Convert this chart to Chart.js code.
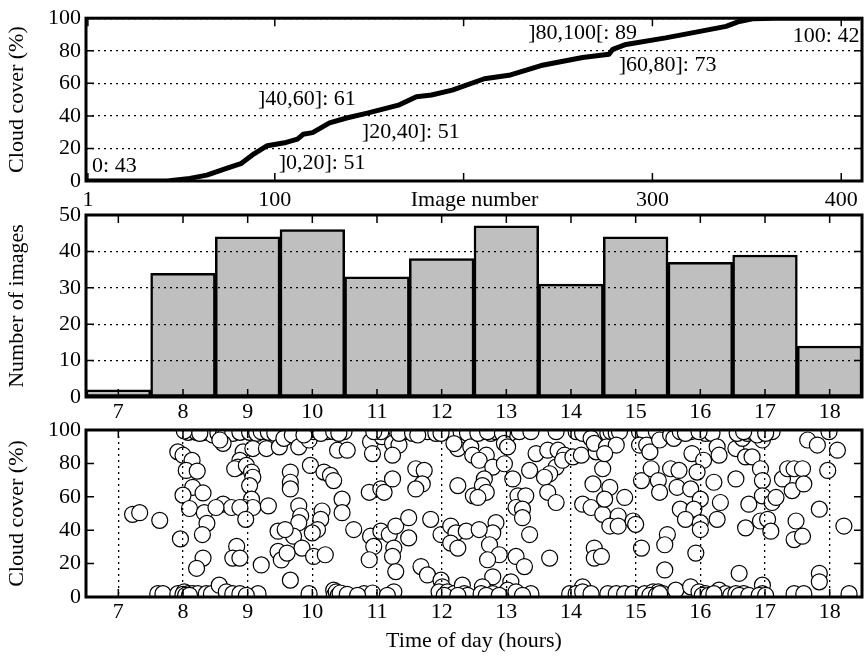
<!DOCTYPE html>
<html>
<head>
<meta charset="utf-8">
<script src="https://cdn.jsdelivr.net/npm/chart.js@4.4.1/dist/chart.umd.min.js"></script>
<style>
  body { margin: 0; background: #fff; }
  #wrap { position: relative; width: 864px; height: 658px; }
  canvas { position: absolute; left: 0; }
</style>
</head>
<body>
<div id="wrap">
  <canvas id="sortedChart" width="864" height="215" style="top:0px"></canvas>
  <canvas id="hourChart" width="864" height="225" style="top:195px"></canvas>
  <canvas id="scatterChart" width="864" height="253" style="top:405px"></canvas>
</div>
<script>
// ---- top panel: cloud cover of every image, sorted ----
var imageNumber = [1, 43, 55, 64, 74, 82, 89, 96, 106, 112, 115, 120, 129, 138, 149, 166, 175, 183, 194, 211, 224, 241, 263, 277, 279, 286, 307, 321, 339, 346, 353, 365, 410];
var sortedCover = [0, 0, 1.6, 3.6, 7.6, 10.6, 16.7, 21.7, 23.7, 25.7, 28.7, 29.7, 35.7, 38.7, 41.7, 46.8, 51.8, 52.8, 55.8, 62.8, 64.9, 70.9, 75.9, 77.9, 80.9, 83.9, 87.9, 91, 95, 98, 99.6, 100, 100];
var imageTicks = [1, 100, 200, 300, 400];
var classText = ["0: 43", "]0,20]: 51", "]20,40]: 51", "]40,60]: 61", "]60,80]: 73", "]80,100[: 89", "100: 42"];

// where the class texts sit, in data units (image number, cover)
var classAnchor = [[15, 9.2], [125, 11.1], [172, 29.8], [117, 50.3], [308, 71.4], [263, 91], [392, 89]];

// ---- middle panel: images per hour ----
var hours = [7, 8, 9, 10, 11, 12, 13, 14, 15, 16, 17, 18];
var imagesPerHour = [2, 34, 44, 46, 33, 38, 47, 31, 44, 37, 39, 14];

// ---- bottom panel: cloud cover against time of day ----
var scatterHour = [
  7.22, 7.33,
  7.64, 7.92, 8.0, 8.14, 8.05, 8.22, 8.15, 8.0, 8.31, 8.1, 8.33, 8.37, 8.3, 7.96, 8.31, 8.21, 8.08, 8.21, 8.33, 8.46, 8.02, 8.26, 7.61, 7.69, 7.92, 8.02, 8.08, 8.15, 8.23, 8.36, 8.44, 8.0, 8.04, 8.1,
  8.54, 8.62, 8.67, 8.77, 8.88, 9.03, 9.14, 9.21, 9.32, 9.42, 8.62, 8.57, 8.93, 9.08, 9.29, 9.49, 8.88, 8.85, 8.8, 8.98, 9.06, 9.08, 9.03, 9.06, 8.95, 9.08, 9.32, 8.62, 8.75, 8.88, 8.51, 8.97, 8.83, 8.77, 8.88, 9.21, 9.47, 9.47, 8.56, 8.67, 8.77, 8.88, 9.16, 8.98,
  9.52, 9.56, 9.69, 9.79, 9.95, 10.02, 10.23, 10.49, 9.87, 10.13, 10.33, 10.41, 9.66, 9.66, 9.66, 9.97, 10.18, 10.28, 10.33, 10.39, 9.79, 9.82, 9.79, 10.15, 10.13, 10.08, 10.0, 10.46, 10.46, 9.71, 9.58, 9.84, 9.61, 10.02, 10.2, 9.66, 9.95, 10.33, 10.36, 10.39, 10.41, 10.46, 10.34, 10.37, 10.4, 10.43,
  10.54, 10.9, 10.93, 11.08, 11.24, 11.34, 11.24, 11.42, 11.06, 10.95, 11.34, 10.88, 11.06, 11.11, 11.24, 10.9, 10.95, 10.88, 11.06, 11.19, 11.29, 11.26, 11.24, 11.29, 11.49, 11.49, 10.64, 10.8, 10.93, 11.26, 10.54, 10.7, 11.16,
  11.55, 11.78, 11.91, 12.09, 12.19, 12.3, 12.4, 11.63, 11.99, 12.25, 12.19, 12.45, 12.48, 11.6, 11.73, 11.7, 11.6, 12.25, 12.49, 11.83, 11.99, 12.14, 12.22, 12.38, 12.14, 12.25, 11.68, 11.78, 11.99, 12.01, 11.96, 12.09, 12.19, 12.32, 12.35, 12.4, 12.04, 12.25,
  12.63, 12.76, 12.84, 13.05, 13.2, 13.38, 12.56, 12.71, 12.94, 12.97, 13.02, 13.46, 13.36, 12.69, 12.58, 12.79, 12.97, 12.66, 12.63, 12.69, 12.56, 13.1, 13.18, 13.3, 13.15, 13.25, 13.25, 13.36, 12.84, 12.79, 12.74, 12.58, 12.89, 12.71, 13.15, 13.28, 12.79, 13.07, 12.63, 12.61, 12.79, 13.02, 13.15, 13.38, 12.69, 12.89, 13.25,
  13.77, 14.08, 14.18, 14.31, 13.64, 13.8, 13.9, 13.77, 13.67, 13.59, 13.87, 14.03, 14.16, 13.64, 13.77, 14.18, 14.31, 14.34, 14.49, 14.39, 14.36, 14.36, 14.36, 14.47, 13.67, 14.18, 14.49, 13.98, 14.08, 14.18, 14.31,
  14.57, 14.62, 14.7, 15.06, 15.22, 15.4, 15.49, 14.75, 15.14, 15.32, 14.55, 14.7, 14.52, 14.6, 14.83, 14.52, 14.73, 14.6, 14.73, 14.96, 15.0, 15.09, 15.06, 15.17, 15.22, 15.37, 15.24, 15.35, 15.37, 15.49, 15.45, 15.09, 15.45, 14.57, 14.7, 14.83, 14.96, 15.14, 15.27, 15.35, 15.42, 15.22, 15.32, 15.37,
  15.54, 15.59, 15.69, 15.85, 16.08, 16.18, 15.77, 15.98, 15.87, 16.05, 16.26, 16.29, 15.54, 15.67, 15.95, 16.21, 15.64, 15.85, 16.0, 16.31, 15.69, 15.9, 15.77, 16.0, 16.0, 16.26, 15.93, 15.62, 15.85, 15.98, 16.08, 16.29, 16.39, 16.03, 16.13, 16.47, 16.21,
  16.55, 16.65, 16.73, 16.8, 16.96, 17.11, 16.57, 16.88, 17.01, 16.67, 16.7, 16.8, 16.55, 16.93, 16.96, 16.75, 16.96, 17.11, 17.17, 17.27, 17.35, 17.45, 17.42, 16.7, 16.93, 17.04, 17.09, 17.48, 17.45, 16.6, 16.96, 16.55, 16.67, 16.96, 17.45, 16.6, 16.75, 16.91, 17.01,
  17.66, 17.81, 17.99, 18.12, 17.58, 17.97, 17.6, 17.84, 17.58, 18.22, 17.84, 17.84, 18.3, 17.6
];
var scatterCover = [
  49.5, 50.5,
  45.9, 86.9, 84.9, 81.8, 75.8, 75.4, 65.7, 61.0, 62.3, 53.0, 50.5, 44.1, 37.4, 34.8, 23.3, 17.2, 98.6, 98.6, 98.6, 97.0, 99.4, 98.0, 2.0, 2.0, 2.0, 3.1, 2.0, 2.0, 2.0, 2.0, 2.0, 1.6, 1.0, 1.0,
  98.0, 97.0, 99.0, 98.0, 98.6, 98.6, 98.0, 99.0, 98.6, 98.0, 92.0, 94.0, 86.9, 88.9, 88.9, 89.9, 81.8, 77.8, 76.8, 78.8, 74.8, 71.7, 66.7, 58.6, 53.6, 53.6, 54.6, 55.6, 53.6, 53.6, 53.6, 46.5, 30.3, 23.3, 23.3, 19.2, 39.4, 27.3, 7.1, 3.1, 2.0, 2.0, 2.0, 1.0,
  22.2, 95.0, 97.0, 89.9, 94.0, 99.0, 99.0, 99.0, 97.0, 98.0, 99.0, 98.0, 74.8, 68.7, 64.7, 78.8, 74.8, 72.8, 69.7, 87.9, 54.6, 48.5, 44.5, 51.5, 46.5, 40.4, 38.4, 58.6, 50.5, 36.4, 40.4, 29.3, 26.3, 24.3, 25.3, 10.1, 2.0, 4.1, 2.0, 2.0, 1.6, 2.0, 1.0, 3.1, 1.0, 2.4,
  87.9, 93.0, 85.9, 96.0, 92.0, 91.0, 84.9, 99.0, 99.0, 99.0, 98.0, 62.7, 64.7, 62.7, 70.7, 36.4, 30.3, 22.3, 39.4, 37.4, 42.5, 29.3, 24.3, 15.2, 47.5, 35.4, 40.4, 2.0, 2.4, 3.1, 1.6, 1.0, 1.0,
  98.0, 99.0, 98.0, 99.0, 97.0, 99.0, 98.0, 97.0, 98.0, 88.9, 91.9, 89.9, 84.9, 76.8, 75.8, 67.7, 64.7, 66.7, 60.6, 46.5, 37.4, 42.5, 38.4, 39.4, 32.3, 29.3, 18.2, 13.2, 10.1, 6.1, 3.1, 3.1, 2.0, 7.1, 2.0, 1.0, 1.0, 1.0,
  99.0, 98.0, 99.0, 98.0, 99.0, 99.0, 98.0, 99.0, 98.0, 92.0, 89.9, 85.9, 75.8, 84.9, 81.9, 77.8, 79.8, 70.7, 66.7, 62.7, 59.6, 70.7, 60.6, 60.6, 53.6, 52.6, 47.5, 37.4, 44.5, 38.4, 31.3, 40.4, 25.3, 22.3, 24.3, 18.2, 12.1, 9.1, 6.1, 2.0, 2.0, 4.1, 3.1, 2.0, 1.0, 1.0, 1.0,
  99.0, 99.0, 98.0, 95.0, 87.9, 87.9, 84.9, 77.8, 73.8, 71.7, 81.9, 83.9, 84.9, 62.7, 56.6, 55.6, 53.6, 67.7, 76.8, 86.9, 92.0, 29.3, 23.3, 24.3, 23.3, 6.1, 49.5, 2.0, 2.0, 3.1, 2.0,
  98.0, 99.0, 98.0, 99.0, 98.0, 98.0, 99.0, 99.0, 98.6, 99.0, 89.9, 91.0, 85.9, 65.7, 59.6, 58.6, 48.5, 42.5, 42.5, 45.5, 43.5, 69.7, 91.0, 91.0, 86.9, 94.0, 76.8, 69.7, 62.7, 37.4, 31.3, 29.3, 16.2, 2.0, 2.0, 2.0, 2.0, 2.0, 3.1, 3.1, 2.0, 1.0, 1.0, 2.0,
  97.0, 95.0, 99.0, 99.0, 98.0, 98.0, 98.0, 99.0, 85.9, 81.9, 89.9, 84.9, 76.8, 75.8, 74.8, 68.7, 65.7, 64.7, 58.6, 56.6, 52.6, 52.6, 46.5, 44.5, 40.4, 46.5, 26.3, 4.1, 6.1, 3.1, 2.0, 4.1, 2.0, 1.0, 1.0, 1.0, 2.0,
  88.9, 95.0, 98.0, 99.0, 94.0, 99.0, 98.0, 97.0, 98.0, 99.0, 83.9, 83.9, 70.7, 76.8, 69.7, 55.6, 60.6, 56.6, 59.6, 70.7, 76.8, 76.8, 63.7, 41.4, 45.5, 46.5, 39.4, 45.5, 34.4, 14.2, 7.1, 2.0, 2.0, 2.0, 2.0, 1.0, 1.0, 1.0, 1.0,
  94.0, 91.0, 99.0, 87.9, 76.8, 75.8, 67.7, 52.6, 36.4, 42.5, 14.2, 9.1, 2.0, 2.0
];

Chart.defaults.font.family = "'Liberation Serif', 'DejaVu Serif', serif";
Chart.defaults.font.size = 22;
Chart.defaults.color = "#000";
Chart.defaults.plugins.legend.display = false;
Chart.defaults.plugins.tooltip.enabled = false;
Chart.defaults.animation = false;

// thick frame and small inward ticks, like the original plot
var framePlugin = {
  id: "frame",
  afterDraw: function (chart) {
    var ctx = chart.ctx;
    var a = chart.chartArea;
    var sx = chart.scales.x;
    var sy = chart.scales.y;
    ctx.save();
    ctx.strokeStyle = "#000";
    ctx.lineWidth = 1.5;
    ctx.beginPath();
    for (var i = 0; i < sx.ticks.length; i++) {
      var px = sx.getPixelForTick(i);
      ctx.moveTo(px, a.top); ctx.lineTo(px, a.top + 8);
      ctx.moveTo(px, a.bottom); ctx.lineTo(px, a.bottom - 8);
    }
    for (var j = 0; j < sy.ticks.length; j++) {
      var py = sy.getPixelForTick(j);
      ctx.moveTo(a.left, py); ctx.lineTo(a.left + 8, py);
      ctx.moveTo(a.right, py); ctx.lineTo(a.right - 8, py);
    }
    ctx.stroke();
    ctx.lineWidth = 3;
    ctx.strokeRect(a.left, a.top, a.right - a.left, a.bottom - a.top);
    ctx.restore();
  }
};

var classPlugin = {
  id: "classes",
  afterDatasetsDraw: function (chart) {
    var ctx = chart.ctx;
    ctx.save();
    ctx.font = "22px 'Liberation Serif', serif";
    ctx.fillStyle = "#000";
    ctx.textAlign = "center";
    ctx.textBaseline = "middle";
    for (var i = 0; i < classText.length; i++) {
      ctx.fillText(classText[i],
        chart.scales.x.getPixelForValue(classAnchor[i][0]),
        chart.scales.y.getPixelForValue(classAnchor[i][1]));
    }
    ctx.restore();
  }
};

var dotted = { display: false, dash: [2, 4] };
var dotGrid = { color: "#000", lineWidth: 1.3, drawTicks: false, z: 1 };

// top
var sortedPoints = [];
for (var i in imageNumber) {
  sortedPoints.push({ x: imageNumber[i], y: sortedCover[i] });
}
new Chart(document.getElementById("sortedChart"), {
  type: "line",
  data: {
    datasets: [{
      data: sortedPoints,
      borderColor: "#000",
      borderWidth: 5,
      pointRadius: 0,
      tension: 0,
      borderJoinStyle: "round"
    }]
  },
  options: {
    responsive: false,
    layout: { autoPadding: false, padding: { top: 15, right: 2, left: 0, bottom: 0 } },
    scales: {
      x: {
        type: "linear", min: 0, max: 411,
        afterBuildTicks: function (s) { s.ticks = imageTicks.map(function (v) { return { value: v }; }); },
        ticks: { autoSkip: false, maxRotation: 0, padding: 6, callback: function (v) { return v === 200 ? "    Image number" : v; } },
        grid: { display: false, drawTicks: false },
        border: { display: false },
        afterFit: function (s) { s.height = 34; }
      },
      y: {
        min: 0, max: 100,
        ticks: { stepSize: 20, padding: 5 },
        grid: { color: "#000", lineWidth: 1.3, drawTicks: false },
        border: dotted,
        title: { display: true, text: "Cloud cover (%)", padding: { top: 4, bottom: 4 } },
        afterFit: function (s) { s.width = 86; }
      }
    }
  },
  plugins: [classPlugin, framePlugin]
});

// middle
new Chart(document.getElementById("hourChart"), {
  type: "bar",
  data: {
    labels: hours,
    datasets: [{
      data: imagesPerHour,
      backgroundColor: "#bfbfbf",
      borderColor: "#000",
      borderWidth: 2.5,
      borderSkipped: false,
      barPercentage: 1,
      categoryPercentage: 1
    }]
  },
  options: {
    responsive: false,
    layout: { autoPadding: false, padding: { top: 20, right: 2, left: 0, bottom: 0 } },
    scales: {
      x: {
        offset: true,
        ticks: { autoSkip: false, maxRotation: 0, padding: 2 },
        grid: { display: false, drawTicks: false },
        border: { display: false },
        afterFit: function (s) { s.height = 23; }
      },
      y: {
        min: 0, max: 50,
        ticks: { stepSize: 10, padding: 5 },
        grid: dotGrid,
        border: dotted,
        title: { display: true, text: "Number of images", padding: { top: 4, bottom: 4 } },
        afterFit: function (s) { s.width = 86; }
      }
    }
  },
  plugins: [framePlugin]
});

// bottom
var scatterPoints = [];
for (var k in scatterHour) {
  scatterPoints.push({ x: scatterHour[k], y: scatterCover[k] });
}
new Chart(document.getElementById("scatterChart"), {
  type: "scatter",
  data: {
    datasets: [{
      data: scatterPoints,
      pointRadius: 8,
      backgroundColor: "#fff",
      borderColor: "#000",
      borderWidth: 1.2,
      clip: 0
    }]
  },
  options: {
    responsive: false,
    layout: { autoPadding: false, padding: { top: 25, right: 2, left: 0, bottom: 0 } },
    scales: {
      x: {
        type: "linear", min: 6.5, max: 18.5,
        afterBuildTicks: function (s) { s.ticks = hours.map(function (v) { return { value: v }; }); },
        ticks: { autoSkip: false, maxRotation: 0, padding: 2 },
        grid: dotGrid,
        border: dotted,
        title: { display: true, text: "Time of day (hours)", padding: { top: 2, bottom: 4 } },
        afterFit: function (s) { s.height = 61; }
      },
      y: {
        min: 0, max: 100,
        ticks: { stepSize: 20, padding: 5 },
        grid: { display: false, drawTicks: false },
        border: { display: false },
        title: { display: true, text: "Cloud cover (%)", padding: { top: 4, bottom: 4 } },
        afterFit: function (s) { s.width = 86; }
      }
    }
  },
  plugins: [framePlugin]
});
</script>
</body>
</html>
